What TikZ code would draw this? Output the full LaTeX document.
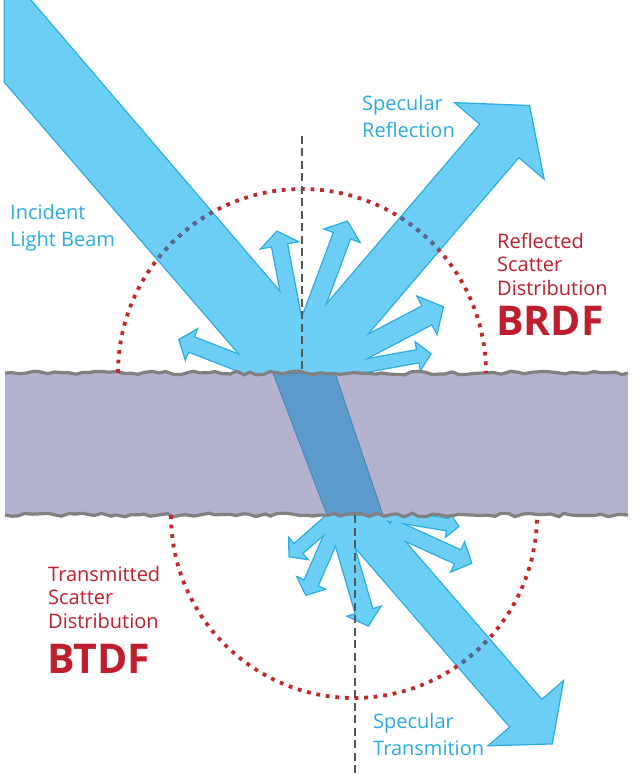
\documentclass[tikz,border=0pt]{standalone}
\usepackage{fontspec}
\setmainfont{Open Sans}
\usepackage{tikz}
\usetikzlibrary{decorations.pathmorphing}
\definecolor{lightbeam}{HTML}{6DCFF6}
\definecolor{beamline}{HTML}{29ABE2}
\definecolor{glassbeam}{HTML}{5C9ACC}
\definecolor{glassline}{HTML}{3F82BE}
\definecolor{slabfill}{HTML}{B3B3CF}
\definecolor{surfgray}{HTML}{808080}
\definecolor{scatterred}{HTML}{C1272D}
\definecolor{dotblue}{HTML}{4D6A92}
\definecolor{normalgray}{HTML}{555555}
\definecolor{labelblue}{HTML}{29ABE2}
\definecolor{labelred}{HTML}{BE1E2D}
\tikzstyle{beamout}=[draw=beamline,line width=2.6pt,line join=miter]
\tikzstyle{beamin}=[fill=lightbeam]
\tikzstyle{lobe}=[draw=scatterred,line width=3.8pt,dash pattern=on 3.8pt off 5.8pt]
\tikzstyle{lobein}=[lobe,draw=dotblue]
\tikzstyle{normalline}=[draw=normalgray,line width=1.2pt,dash pattern=on 8pt off 4.5pt]
\tikzstyle{surface}=[draw=surfgray,line width=3.2pt,decorate,decoration={random steps,segment length=7pt,amplitude=1.8pt}]
\tikzstyle{bluelabel}=[text=labelblue,font=\fontsize{20}{27}\selectfont,align=left,anchor=base west,inner sep=0pt]
\tikzstyle{redlabel}=[text=labelred,font=\fontsize{20}{23.5}\selectfont,align=left,anchor=base west,inner sep=0pt]
\tikzstyle{bigred}=[text=labelred,font=\fontsize{41}{41}\selectfont\bfseries,anchor=base west,inner sep=0pt]
% block arrow: length, half shaft, half head, head length
\newcommand{\barrow}[4]{(0,-#2) -- ({#1-#4},-#2) -- ({#1-#4},-#3) -- (#1,0) -- ({#1-#4},#3) -- ({#1-#4},#2) -- (0,#2) -- cycle}
\begin{document}
\begin{tikzpicture}[x=1pt,y=-1pt]
        \useasboundingbox (0,0) rectangle (641,775);
        \pgfmathsetseed{7}
        \foreach \pass in {beamout,beamin} {
          \path[\pass] (5,0) -- (30,0) -- (349,373) -- (256,373) -- (5,82) -- cycle;
          \path[\pass,shift={(290,386)},rotate=49.5] \barrow{368}{25}{57}{45};
          \path[\pass,shift={(340,498)},rotate=-49.2] \barrow{324}{20.5}{48}{39};
          \foreach \sx/\sy/\ang/\len/\sw/\hw/\hl in {257/370/158.7/83/7.5/15/12,
              297.6/340/100.8/110/7.5/17.5/13, 303/340/69.5/126/8.5/17.5/14,
              330/366/27.6/127/10/20/17, 320/374/10.3/112/6/13/12,
              340/512/221.3/67/6/13/11, 342/512/246.5/90/7/14/12,
              335/512/-73.7/118/8.5/16/14, 382/514/-9.3/77/5.5/11/10,
              390/526/-24.5/89/7/15/14}
            \path[\pass,shift={(\sx,\sy)},rotate=\ang] \barrow{\len}{\sw}{\hw}{\hl};
        }
        \fill[slabfill] (5,373) rectangle (628,515);
        \draw[glassline,fill=glassbeam,line width=0.8pt] (273,373) -- (335,373) -- (383,515) -- (327,515) -- cycle;
        \draw[surface] (5,373) -- (628,373);
        \draw[surface] (5,515) -- (628,515);
        \draw[lobe] (118,373) arc[start angle=180,end angle=0,radius=184pt];
        \draw[lobe] (171,515) arc[start angle=180,end angle=360,radius=183pt];
        \begin{scope}
          \clip (5,0) -- (30,0) -- (349,373) -- (256,373) -- (5,82) -- cycle;
          \draw[lobein] (118,373) arc[start angle=180,end angle=0,radius=184pt];
        \end{scope}
        \begin{scope}
          \clip[shift={(290,386)},rotate=49.5] \barrow{368}{25}{57}{45};
          \draw[lobein] (118,373) arc[start angle=180,end angle=0,radius=184pt];
        \end{scope}
        \begin{scope}
          \clip[shift={(340,498)},rotate=-49.2] \barrow{324}{20.5}{48}{39};
          \draw[lobein] (171,515) arc[start angle=180,end angle=360,radius=183pt];
        \end{scope}
        \draw[normalline] (302,136) -- (302,373);
        \draw[normalline] (355,515) -- (355,775);
        \node[bluelabel] at (10,247) (incident) {Incident\\Light Beam};
        \node[bluelabel] at (362,138) (specrefl) {Specular\\Reflection};
        \node[redlabel] at (497,295) (brdftext) {Reflected\\Scatter\\Distribution};
        \node[bigred] at (496,335) (brdf) {BRDF};
        \node[redlabel] at (48,628) (btdftext) {Transmitted\\Scatter\\Distribution};
        \node[bigred] at (47,673) (btdf) {BTDF};
        \node[bluelabel] at (373,755) (spectrans) {Specular\\Transmition};
      \end{tikzpicture}
\end{document}
